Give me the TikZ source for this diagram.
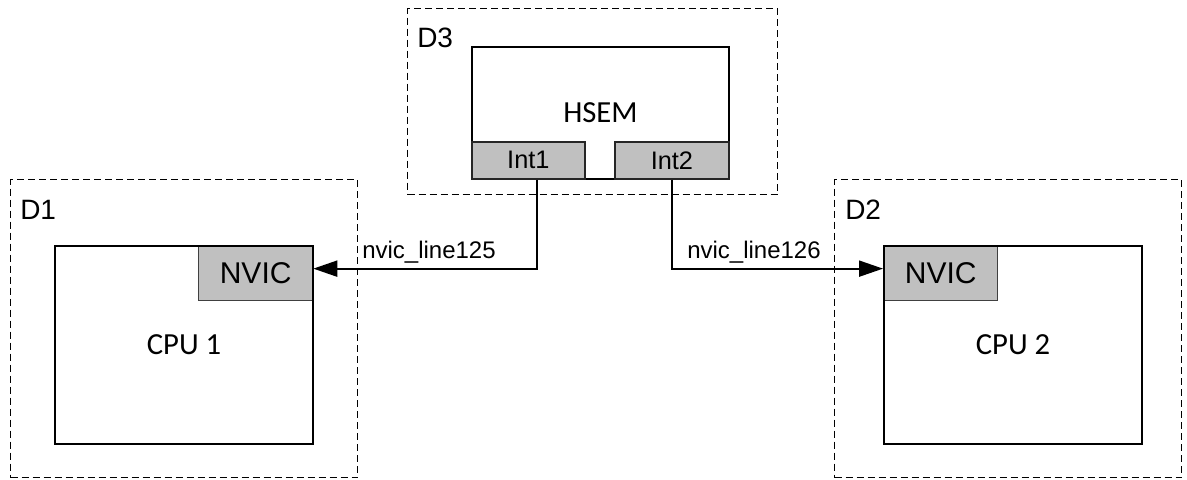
\documentclass[tikz,border=0pt]{standalone}
\usepackage{fontspec}
\setmainfont{Liberation Sans}
\newfontfamily\calibfont{Carlito}
\usetikzlibrary{arrows.meta}
\definecolor{portgray}{HTML}{C0C0C0}
\definecolor{portedge}{HTML}{404040}

\begin{document}
\begin{tikzpicture}[x=0.75pt,y=-0.75pt,
  domainbox/.style={draw, dash pattern=on 5.25pt off 3pt, line width=0.75pt,
    anchor=north west, inner sep=0pt},
  dlabel/.style={anchor=base west, inner sep=0pt, font=\fontsize{21}{24}\selectfont},
  unitbox/.style={draw, line width=1.5pt, anchor=north west, inner sep=0pt,
    font=\calibfont\fontsize{23}{26}\selectfont},
  nvicbox/.style={draw=portedge, fill=portgray, line width=1pt, anchor=north west,
    inner sep=0pt, minimum width=85.5pt, minimum height=41.25pt,
    font=\fontsize{22.5}{25}\selectfont},
  intbox/.style={draw=black!85, fill=portgray, line width=1.3pt, anchor=north west,
    inner sep=0pt, minimum height=27.75pt, font=\fontsize{19}{22}\selectfont},
  wire/.style={line width=1.5pt, -{Triangle[length=18pt,width=12pt]}},
  wirelabel/.style={anchor=base west, inner sep=0pt, font=\fontsize{18}{21}\selectfont}
]
\useasboundingbox (0,0) rectangle (1187,479);

% domains
\node[domainbox, minimum width=260.25pt, minimum height=223.5pt] (d1) at (10,179) {};
\node[domainbox, minimum width=260.25pt, minimum height=223.5pt] (d2) at (834,179) {};
\node[domainbox, minimum width=277.5pt, minimum height=139.5pt] (d3) at (407,8) {};
\node[dlabel] (d1lab) at (20,219) {D1};
\node[dlabel] (d2lab) at (845,219) {D2};
\node[dlabel] (d3lab) at (417,47) {D3};

% HSEM with its two interrupt outputs
\node[unitbox, minimum width=192.75pt, minimum height=99pt] (hsem) at (471,46) {HSEM};
\node[intbox, minimum width=84.75pt] (int1) at (471,141) {Int1};
\node[intbox, minimum width=85.5pt] (int2) at (614,141) {Int2};

% CPUs with their NVIC blocks (NVIC first, CPU outline on top)
\node[nvicbox] (nvic1) at (198,245) {NVIC};
\node[unitbox, minimum width=193.5pt, minimum height=148.5pt] (cpu1) at (54,245) {CPU 1};
\node[nvicbox] (nvic2) at (883,245) {NVIC};
\node[unitbox, minimum width=193.5pt, minimum height=148.5pt] (cpu2) at (883,245) {CPU 2};

% interrupt lines
\draw[wire] ([xshift=6.4pt]int1.south) |- ([yshift=3.4pt]nvic1.east);
\draw[wire] (int2.south) |- ([yshift=3.4pt]nvic2.west);
\node[wirelabel] (l125) at (362,258) {nvic\_line125};
\node[wirelabel] (l126) at (687,258) {nvic\_line126};
\end{tikzpicture}
\end{document}
